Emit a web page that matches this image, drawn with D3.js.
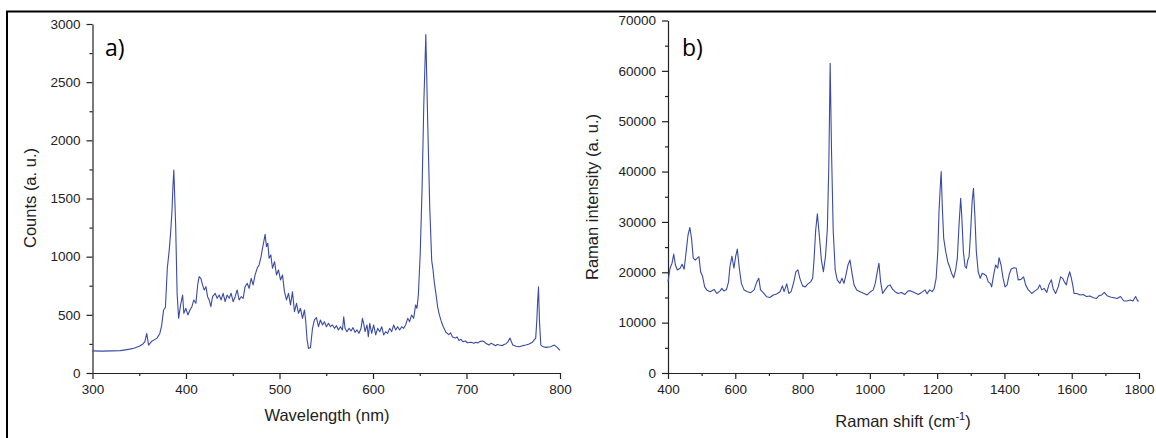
<!DOCTYPE html>
<html>
<head>
<meta charset="utf-8">
<script src="https://cdn.jsdelivr.net/npm/d3@7"></script>
<style>
  html, body { margin: 0; padding: 0; background: #fff; }
  svg { display: block; }
  .tick text { font-family: "Liberation Sans", Arial, sans-serif; font-size: 13.5px; fill: #222; }
  .axis path, .axis line { stroke: #222; stroke-width: 1.2; }
</style>
</head>
<body>
<svg id="chart" width="1156" height="438"></svg>
<script>
// ---------- Panel a) : emission spectrum ----------
const wavelengthNm = [300,310,320,330,340,345,350,354,356,358,360,363,366,369,372,374,376,378,380,382,383.5,385,386,387,388,389,390.5,392.1,394.2,396.4,397.7,399.9,402,404.2,406.3,408.4,410.6,412.7,414.1,415.9,417.7,419.4,421.3,423.1,424.8,426.6,428.4,431.2,433.3,435.5,437.6,439.7,441.9,444,446.2,448.3,450.4,452.6,454.7,456.8,459,461.1,463.2,465.4,467.5,469.7,471.8,473.9,476.1,478.2,480.3,481.8,483.2,484.6,486.1,487.5,488.9,490.7,492.5,494.7,496.8,498.9,501.1,503.2,505.3,507.5,509.6,511.8,513.9,516,518.2,520.3,522.4,524.6,526.7,528.1,529.5,531,533.1,535.3,537.4,539.5,541.7,543.8,546,548,550.2,552.4,554.5,556.6,558.8,560.9,563,565.2,567.3,568.7,570.1,572.2,574.4,576.5,578.6,580.8,582.9,585,587.2,588.7,590,591.5,593.6,595,596.5,598.6,600.7,602.9,605,607.2,609.3,611.4,613.6,615.7,617.8,620,622.1,624.3,626.4,628.5,630.7,632.8,634.9,637.1,639.2,641.3,643.5,645.6,647,648.5,650.5,652.5,654.3,656.5,658.5,660.7,662.8,664,665.7,667,669.2,671,672.8,675,678,681,683,685,688,690,692,694,696,699,701,705,708,710,712,714,717,719,720,722,724,726,728,731,733,735,738,740,742,744,746.5,749.5,753,756.5,760,763.5,767,770.5,772,774,775.2,776,777,778,779.5,782,785,790,794,797,800];
const counts = [190,188,190,192,205,215,230,250,270,340,240,270,285,300,340,410,540,565,900,1050,1200,1390,1600,1745,1500,1250,680,470,585,670,513,556,499,542,570,628,599,771,828,814,757,714,742,656,628,570,656,685,642,671,628,685,613,671,642,685,613,656,714,628,656,642,742,771,728,814,757,843,900,929,1000,1072,1129,1192,1086,1115,986,1015,900,957,843,886,800,843,699,628,685,585,699,527,599,513,556,470,542,441,284,212,218,384,456,476,398,456,413,441,398,427,398,413,384,407,370,398,370,484,384,355,384,361,390,350,370,341,384,470,427,355,413,312,427,341,413,327,384,355,398,327,355,341,384,355,413,370,398,370,398,384,413,470,441,499,470,585,556,670,1025,1590,2300,2910,2160,1420,965,900,770,700,565,500,450,400,350,330,345,310,300,310,280,290,270,275,260,265,255,265,258,270,275,268,260,250,240,255,250,235,245,240,235,245,250,265,300,240,230,225,235,240,250,265,280,300,450,600,740,450,240,225,220,225,240,220,195];
const aXTicks = [300,400,500,600,700,800];
const aYTicks = [0,500,1000,1500,2000,2500,3000];

// ---------- Panel b) : Raman spectrum ----------
const ramanShift = [400,406,412,417,422,428,436,442,448,453.5,459.5,465,470,475,481,487,492,497,503,509,515,525,537,545,555,560,566,574,580,584,590,596,601,606,612,618,626,636,646,656,664,670,675,683,693,703,713,723,733,740,745,753,759,766,774,780,786,792,800,808,816,824,830,834,839,844,850,856,862,868,873.5,878,882,886,891,897,903,911,917,923,929,935,941,947,953,961,971,983,992,1002,1010,1016,1022,1027,1032,1038,1045,1054,1060,1068,1075,1084,1094,1104,1114,1122,1132,1144,1154,1164,1170,1178,1185,1191,1197,1202,1205.5,1209.5,1212,1215.5,1219.5,1225.5,1231.5,1237,1243,1249,1255,1260,1265,1270,1273,1278,1283,1287,1291,1295,1299,1304,1308,1312.5,1316.5,1322,1328,1334,1340,1346,1352,1358,1362,1368,1374,1380,1384,1390,1396,1402,1408,1414,1420,1428,1435,1441,1449,1457,1463,1471,1481,1491,1499,1505,1511,1518,1526,1532,1539.5,1544.5,1552,1560,1567,1573,1578,1584,1588,1594,1598,1603,1607,1615,1625,1634,1644,1654,1664,1674,1681,1689,1697,1705,1715,1725,1735,1745,1755,1764,1774,1782,1790,1796,1800];
const ramanIntensity = [18100,20800,21800,23600,21450,20450,20800,21600,20600,23800,27400,28900,26700,22800,22400,22800,23100,20100,19100,17100,16500,16150,16600,15800,16300,16800,16300,16600,18100,21100,23200,20800,23100,24600,20800,17800,16500,16150,15950,16500,18100,18800,16500,15950,15150,15000,15500,15700,16150,17300,16150,17700,15800,16150,18100,20100,20500,18800,17300,17100,17700,18100,18800,22400,28400,31600,27100,22400,20100,23100,28400,41000,61500,44300,28400,20450,18500,17800,18800,17800,19500,21450,22440,19800,17500,16500,16150,15800,15500,16150,16500,17800,20100,21800,18100,15800,16500,17300,17500,16600,16150,15800,16000,15600,16300,16300,16000,15600,16000,16500,15750,16500,16150,16700,18800,24100,32000,37300,40000,32700,26750,24100,22100,21100,19800,18900,20450,22800,29400,34700,31400,24100,21100,20800,22400,23100,27400,34000,36700,30700,24100,20100,18800,19800,19600,19300,18100,17800,17100,19500,21450,20800,22900,21450,18800,17100,17500,19500,20650,20900,20800,18500,18600,19100,17500,16500,15800,16300,16700,17500,16500,16800,16000,17500,18500,16800,15800,17100,19100,18800,18100,17500,18800,20100,19100,17500,15800,15800,15500,15600,15200,15300,14950,14800,15350,15500,16000,15350,15100,14950,14800,15200,14300,14300,14500,14300,15200,14300,14300];
const bXTicks = [400,600,800,1000,1200,1400,1600,1800];
const bYTicks = [0,10000,20000,30000,40000,50000,60000,70000];

const lineColor = "#3a4aa5";
const svg = d3.select("#chart");
const fontMain = '"Liberation Sans", Arial, sans-serif';

// outer frame (left + top edges visible)
svg.append("path")
  .attr("d", "M7,438 L7,11.5 L1156,11.5")
  .attr("fill", "none").attr("stroke", "#000").attr("stroke-width", 2);

function panel(opts) {
  const x = d3.scaleLinear().domain(opts.xDomain).range(opts.xRange);
  const y = d3.scaleLinear().domain(opts.yDomain).range(opts.yRange);
  const g = svg.append("g");

  // minor ticks
  g.append("g").attr("class", "axis")
    .attr("transform", `translate(0,${opts.yRange[0]})`)
    .call(d3.axisBottom(x).tickValues(opts.xMinor).tickSize(3).tickFormat("").tickSizeOuter(0))
    .call(s => s.select(".domain").remove());
  g.append("g").attr("class", "axis")
    .attr("transform", `translate(${opts.xRange[0]},0)`)
    .call(d3.axisLeft(y).tickValues(opts.yMinor).tickSize(3).tickFormat("").tickSizeOuter(0))
    .call(s => s.select(".domain").remove());

  // major axes
  g.append("g").attr("class", "axis")
    .attr("transform", `translate(0,${opts.yRange[0]})`)
    .call(d3.axisBottom(x).tickValues(opts.xTicks).tickSize(6).tickPadding(5).tickSizeOuter(0).tickFormat(d3.format("d")));
  g.append("g").attr("class", "axis")
    .attr("transform", `translate(${opts.xRange[0]},0)`)
    .call(d3.axisLeft(y).tickValues(opts.yTicks).tickSize(6).tickPadding(6).tickSizeOuter(0).tickFormat(d3.format("d")));

  // data line
  const pts = opts.xs.map((v, i) => [v, opts.ys[i]]);
  g.append("path")
    .datum(pts)
    .attr("fill", "none")
    .attr("stroke", lineColor)
    .attr("stroke-width", 1.1)
    .attr("stroke-linejoin", "round")
    .attr("d", d3.line().x(d => x(d[0])).y(d => y(d[1])));

  // panel letter
  g.append("text")
    .attr("x", opts.letterX).attr("y", 56)
    .attr("font-family", '"Open Sans", "DejaVu Sans", sans-serif')
    .attr("font-size", 23).attr("fill", "#000")
    .text(opts.letter);
  return {x, y, g};
}

panel({
  xDomain: [300, 800], xRange: [92.5, 560],
  yDomain: [0, 3000], yRange: [373, 24],
  xTicks: aXTicks, yTicks: aYTicks,
  xMinor: d3.range(350, 800, 100), yMinor: d3.range(250, 3000, 500),
  xs: wavelengthNm, ys: counts,
  letter: "a)", letterX: 105
});
panel({
  xDomain: [400, 1800], xRange: [668, 1139],
  yDomain: [0, 70000], yRange: [373, 20.5],
  xTicks: bXTicks, yTicks: bYTicks,
  xMinor: d3.range(500, 1800, 200), yMinor: d3.range(5000, 70000, 10000),
  xs: ramanShift, ys: ramanIntensity,
  letter: "b)", letterX: 682
});

// axis titles
svg.append("text").attr("x", 327).attr("y", 421).attr("text-anchor", "middle")
  .attr("font-family", fontMain).attr("font-size", 16.5).attr("fill", "#222")
  .text("Wavelength (nm)");
svg.append("text").attr("transform", "translate(36,198) rotate(-90)").attr("text-anchor", "middle")
  .attr("font-family", fontMain).attr("font-size", 16.5).attr("fill", "#222")
  .text("Counts (a. u.)");
const rs = svg.append("text").attr("x", 903).attr("y", 427).attr("text-anchor", "middle")
  .attr("font-family", fontMain).attr("font-size", 16.5).attr("fill", "#222");
rs.append("tspan").text("Raman shift (cm");
rs.append("tspan").attr("font-size", 11).attr("dy", -7).text("-1");
rs.append("tspan").attr("dy", 7).text(")");
svg.append("text").attr("transform", "translate(598,197) rotate(-90)").attr("text-anchor", "middle")
  .attr("font-family", fontMain).attr("font-size", 16.5).attr("fill", "#222")
  .text("Raman intensity (a. u.)");
</script>
</body>
</html>
